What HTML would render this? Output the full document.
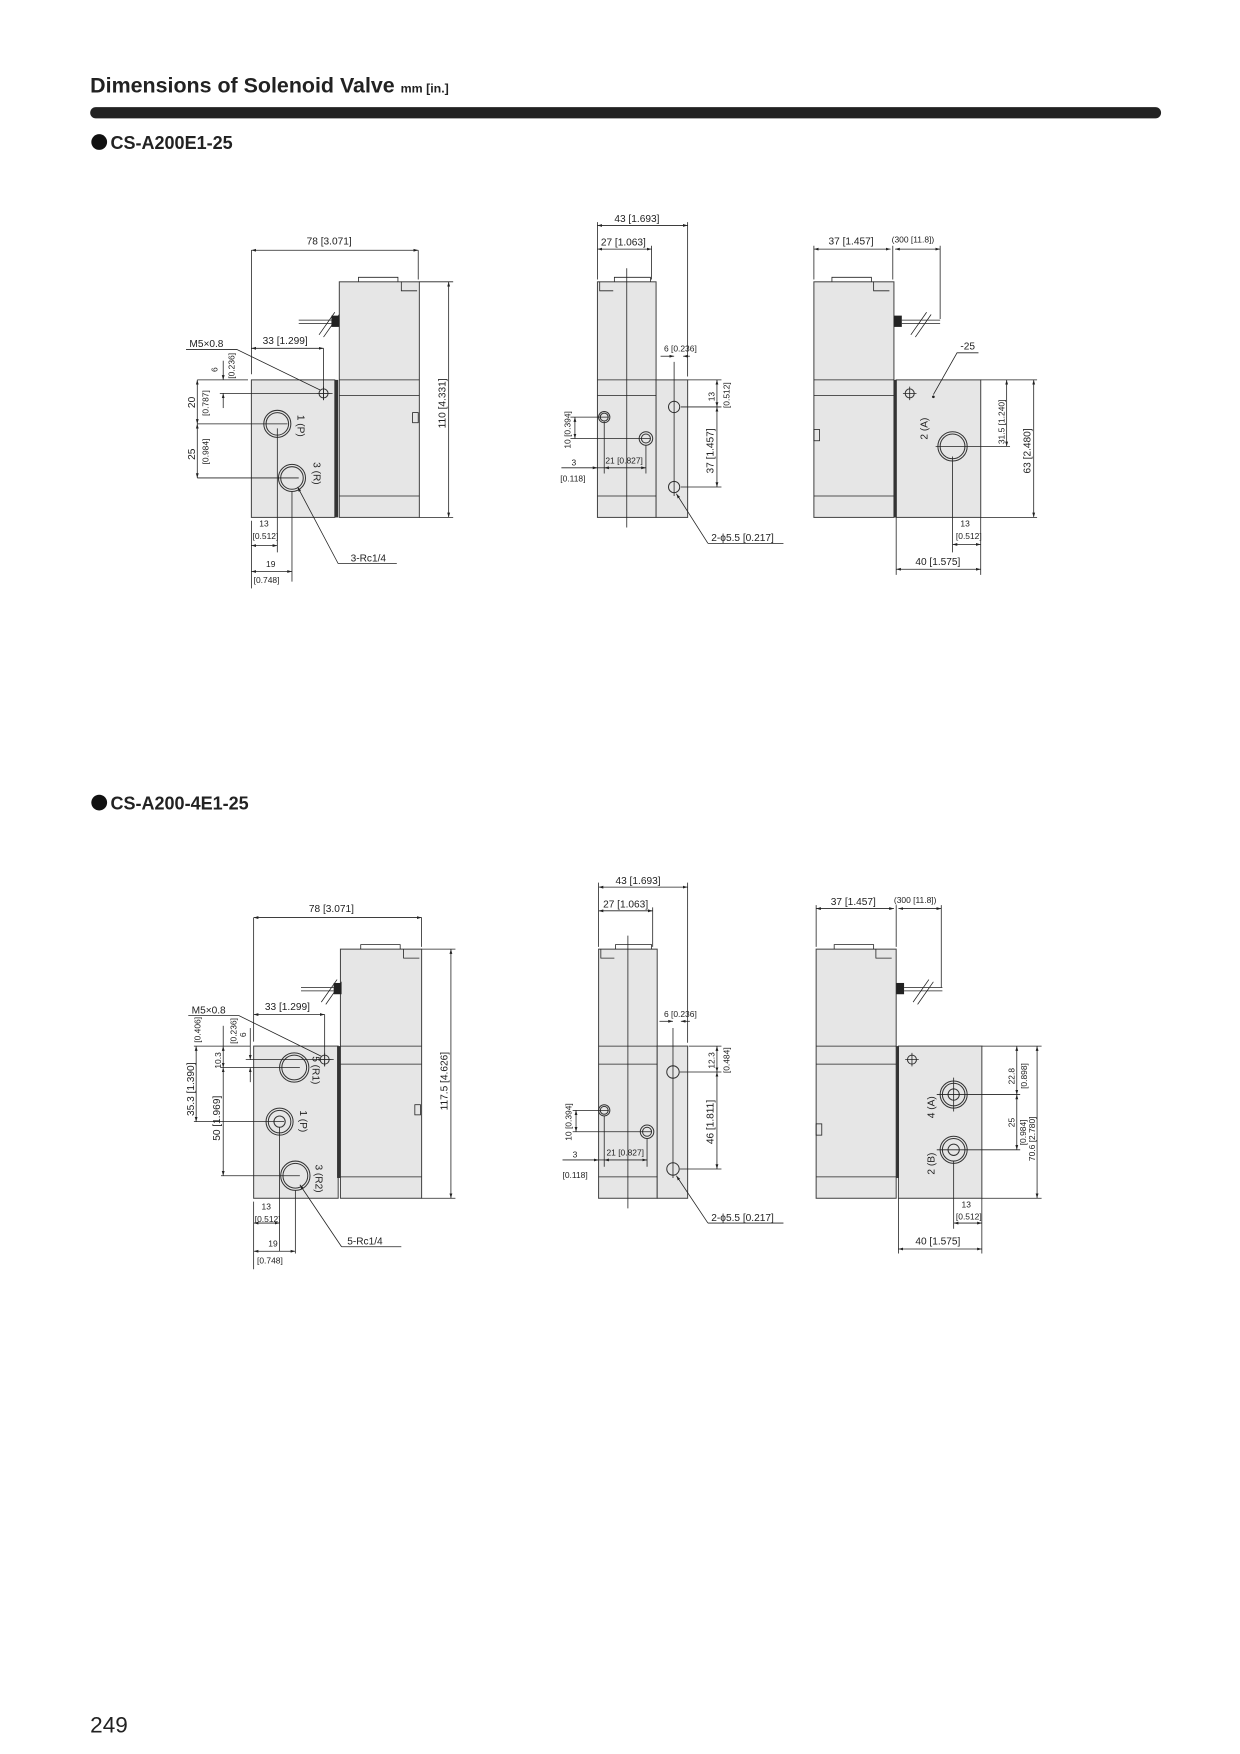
<!DOCTYPE html>
<html><head><meta charset="utf-8"><style>
html,body{margin:0;padding:0;background:#fff}
svg{display:block}
text{font-family:"Liberation Sans",sans-serif;fill:#222}
.b{fill:#e6e6e6;stroke:#444;stroke-width:0.9}
.l{stroke:#222;stroke-width:0.7;fill:none}
.d{stroke:#222;stroke-width:0.7;fill:none;marker-start:url(#a);marker-end:url(#a)}
.d1{stroke:#222;stroke-width:0.7;fill:none;marker-end:url(#a)}
.h{fill:none;stroke:#333;stroke-width:0.9}
.t{font-size:9px}
.s{font-size:7.5px}
</style></head><body>
<svg width="1240" height="1754" viewBox="0 0 1100 1556" xmlns="http://www.w3.org/2000/svg">
<defs><marker id="a" viewBox="0 0 10 10" refX="10" refY="5" markerWidth="6" markerHeight="6" orient="auto-start-reverse"><path d="M0,2 L10,5 L0,8z" fill="#222"/></marker></defs>
<text x="80" y="82" style="font-size:19px;font-weight:bold">Dimensions of Solenoid Valve <tspan style="font-size:11px">mm [in.]</tspan></text>
<rect x="80" y="95" width="950" height="10" rx="5" fill="#222" transform="scale(1)"/>
<circle cx="88" cy="126" r="7" fill="#111"/>
<text x="98" y="132" style="font-size:16px;font-weight:bold">CS-A200E1-25</text>
<circle cx="88" cy="712" r="7" fill="#111"/>
<text x="98" y="718" style="font-size:16px;font-weight:bold">CS-A200-4E1-25</text>
<text x="80" y="1537" style="font-size:20px">249</text>

<!-- ===== TOP LEFT ===== -->
<rect class="b" x="223" y="337" width="74" height="122"/>
<rect class="b" x="301" y="250" width="71" height="209"/>
<path class="l" d="M318 250 v-4 h35 v4 M301 337 h71 M301 351 h71 M301 440 h71 M356 250 v8 h14"/>
<rect x="297" y="337" width="3" height="122" fill="#333"/>
<rect x="366" y="366" width="5" height="9" class="l"/>
<rect x="294" y="280" width="7" height="10" fill="#222"/>
<path class="l" d="M265 284 h29 M265 287 h29 M283 297 l14 -20 M287 299 l14 -20"/>
<circle class="h" cx="287" cy="349" r="4"/><path class="l" d="M281 349h12M287 343v12"/>
<circle class="h" cx="246" cy="376" r="12"/><circle class="h" cx="246" cy="376" r="10"/>
<circle class="h" cx="259" cy="424" r="12"/><circle class="h" cx="259" cy="424" r="10"/>
<text class="t" transform="translate(264,368) rotate(90)">1 (P)</text>
<text class="t" transform="translate(278,410) rotate(90)">3 (R)</text>
<path class="l" d="M223 222 v110 M371 222 v26 M372 250 h30 M372 459 h30 M287 309 v46 M175 337 h45 M175 376 h80 M175 424 h90 M195 349 h100 M223 462 v60 M246 380 v110 M259 436 v80"/>
<path class="d" d="M223 222 H371"/><text class="t" x="272" y="217">78 [3.071]</text>
<path class="d" d="M398 250 V459"/><text class="t" transform="translate(395,380) rotate(-90)">110 [4.331]</text>
<path class="d" d="M223 309 H287"/><text class="t" x="233" y="305">33 [1.299]</text>
<text class="t" x="168" y="308">M5×0.8</text><path class="l" d="M165 310 h45 L284 346"/>
<path class="d1" d="M198 320 V337"/><path class="d1" d="M198 362 V349"/>
<text class="s" transform="translate(193,330) rotate(-90)">6</text><text class="s" transform="translate(208,336) rotate(-90)">[0.236]</text>
<path class="d" d="M175 337 V376"/><text class="t" transform="translate(173,362) rotate(-90)">20</text><text class="s" transform="translate(185,369) rotate(-90)">[0.787]</text>
<path class="d" d="M175 376 V424"/><text class="t" transform="translate(173,408) rotate(-90)">25</text><text class="s" transform="translate(185,412) rotate(-90)">[0.984]</text>
<path class="d" d="M223 484 H246"/><text class="s" x="230" y="467">13</text><text class="s" x="224" y="478">[0.512]</text>
<path class="d" d="M223 507 H259"/><text class="s" x="236" y="503">19</text><text class="s" x="225" y="517">[0.748]</text>
<path class="d1" d="M300 500 L264 432"/><path class="l" d="M300 500 H352"/><text class="t" x="311" y="498">3-Rc1/4</text>

<!-- ===== TOP MIDDLE ===== -->
<rect class="b" x="530" y="250" width="52" height="209"/>
<rect class="b" x="582" y="337" width="28" height="122"/>
<path class="l" d="M530 337 h52 M530 351 h52 M530 440 h52 M545 250 v-4 h32 v4 M532 250 v8 h12 M556 238 V468"/>
<circle class="h" cx="536" cy="370" r="5"/><circle class="h" cx="536" cy="370" r="3.5"/>
<circle class="h" cx="573" cy="389" r="6"/><circle class="h" cx="573" cy="389" r="4"/>
<circle class="h" cx="598" cy="361" r="5"/><circle class="h" cx="598" cy="432" r="5"/>
<path class="l" d="M598 321 V440 M530 197 V248 M610 197 V334 M578 218 V248 M604 361 H640 M604 432 H640 M610 337 H640 M506 370 H540 M506 389 H577 M536 374 V420 M573 395 V420"/>
<path class="d" d="M530 200 H610"/><text class="t" x="545" y="197">43 [1.693]</text>
<path class="d" d="M530 221 H578"/><text class="t" x="533" y="218">27 [1.063]</text>
<path class="d1" d="M586 316 H598"/><path class="d1" d="M612 316 H606"/><text class="s" x="589" y="312">6 [0.236]</text>
<path class="d" d="M636 337 V361"/><text class="s" transform="translate(634,356) rotate(-90)">13</text><text class="s" transform="translate(647,362) rotate(-90)">[0.512]</text>
<path class="d" d="M636 361 V432"/><text class="t" transform="translate(633,420) rotate(-90)">37 [1.457]</text>
<path class="d" d="M510 370 V389"/><text class="s" transform="translate(506,398) rotate(-90)">10 [0.394]</text>
<path class="d1" d="M498 415 H530"/><path class="l" d="M530 415 H536"/><text class="s" x="507" y="413">3</text><text class="s" x="497" y="427">[0.118]</text>
<path class="d" d="M536 415 H573"/><text class="s" x="537" y="411">21 [0.827]</text>
<path class="d1" d="M628 482 L600 438"/><path class="l" d="M628 482 H695"/><text class="t" x="631" y="480">2-ϕ5.5 [0.217]</text>

<!-- ===== TOP RIGHT ===== -->
<rect class="b" x="722" y="250" width="71" height="209"/>
<rect class="b" x="795" y="337" width="75" height="122"/>
<rect x="793" y="337" width="2.5" height="122" fill="#333"/>
<path class="l" d="M722 337 h71 M722 351 h71 M722 440 h71 M738 250 v-4 h35 v4 M775 250 v8 h14"/>
<rect x="722" y="381" width="5" height="10" class="l"/>
<rect x="793" y="280" width="7" height="10" fill="#222"/>
<path class="l" d="M800 284 h34 M800 287 h34 M808 297 l14 -20 M812 299 l14 -20"/>
<circle class="h" cx="807" cy="349" r="4"/><path class="l" d="M801 349h12M807 343v12"/>
<circle cx="828" cy="352" r="1.2" fill="#222"/>
<path class="l" d="M828 350 L849 313 H868"/><text class="t" x="852" y="310">-25</text>
<circle class="h" cx="845" cy="396" r="13"/><circle class="h" cx="845" cy="396" r="11"/>
<text class="t" transform="translate(823,390) rotate(-90)">2 (A)</text>
<path class="l" d="M722 218 V248 M792 218 V248 M834 218 V283 M834 396 H896 M870 337 H920 M870 459 H920 M845 405 V490 M870 459 V487 M795 459 V510 M870 487 V510 M830 396 H845"/>
<path class="d" d="M722 221 H790"/><text class="t" x="735" y="217">37 [1.457]</text>
<path class="d" d="M794 221 H834"/><text class="s" x="791" y="215">(300 [11.8])</text>
<path class="d" d="M893 337 V396"/><text class="s" transform="translate(891,394) rotate(-90)">31.5 [1.240]</text>
<path class="d" d="M917 337 V459"/><text class="t" transform="translate(914,420) rotate(-90)">63 [2.480]</text>
<path class="d" d="M845 483 H870"/><text class="s" x="852" y="467">13</text><text class="s" x="848" y="478">[0.512]</text>
<path class="d" d="M795 505 H870"/><text class="t" x="812" y="501">40 [1.575]</text>

<!-- ===== BOTTOM LEFT ===== -->
<rect class="b" x="225" y="928" width="75" height="135"/>
<rect class="b" x="302" y="842" width="72" height="221"/>
<path class="l" d="M320 842 v-4 h35 v4 M302 928 h72 M302 944 h72 M302 1044 h72 M358 842 v8 h14"/>
<rect x="299" y="928" width="3" height="117" fill="#333"/>
<rect x="368" y="980" width="5" height="9" class="l"/>
<rect x="296" y="872" width="7" height="10" fill="#222"/>
<path class="l" d="M267 876 h29 M267 879 h29 M285 889 l14 -20 M289 891 l14 -20"/>
<circle class="h" cx="288" cy="940" r="4"/><path class="l" d="M282 940h12M288 934v12"/>
<circle class="h" cx="261" cy="947" r="13"/><circle class="h" cx="261" cy="947" r="11"/>
<circle class="h" cx="248" cy="995" r="12"/><circle class="h" cx="248" cy="995" r="10"/><circle class="h" cx="248" cy="995" r="5"/>
<circle class="h" cx="262" cy="1043" r="13"/><circle class="h" cx="262" cy="1043" r="11"/>
<text class="t" transform="translate(277,937) rotate(90)">5 (R1)</text>
<text class="t" transform="translate(266,985) rotate(90)">1 (P)</text>
<text class="t" transform="translate(280,1033) rotate(90)">3 (R2)</text>
<path class="l" d="M225 814 v110 M374 814 v26 M374 842 h30 M374 1063 h30 M288 900 v46 M172 928 h50 M196 947 h70 M172 995 h80 M196 1043 h70 M218 940 h78 M225 1066 v60 M248 1000 v110 M262 1056 v56"/>
<path class="d" d="M225 814 H374"/><text class="t" x="274" y="809">78 [3.071]</text>
<path class="d" d="M400 842 V1063"/><text class="t" transform="translate(397,985) rotate(-90)">117.5 [4.626]</text>
<path class="d" d="M225 900 H288"/><text class="t" x="235" y="896">33 [1.299]</text>
<text class="t" x="170" y="899">M5×0.8</text><path class="l" d="M167 901 h45 L285 937"/>
<path class="d1" d="M222 912 V940"/><path class="d1" d="M222 960 V947"/>
<text class="s" transform="translate(218,920) rotate(-90)">6</text><text class="s" transform="translate(210,926) rotate(-90)">[0.236]</text>
<path class="d" d="M198 928 V947"/><path class="l" d="M198 910 V928"/>
<text class="s" transform="translate(196,948) rotate(-90)">10.3</text><text class="s" transform="translate(178,925) rotate(-90)">[0.406]</text>
<path class="d" d="M174 928 V995"/><text class="t" transform="translate(172,990) rotate(-90)">35.3 [1.390]</text>
<path class="d" d="M198 947 V1043"/><text class="t" transform="translate(195,1012) rotate(-90)">50 [1.969]</text>
<path class="d" d="M225 1085 H248"/><text class="s" x="232" y="1073">13</text><text class="s" x="226" y="1084">[0.512]</text>
<path class="d" d="M225 1110 H262"/><text class="s" x="238" y="1106">19</text><text class="s" x="228" y="1121">[0.748]</text>
<path class="d1" d="M303 1106 L266 1051"/><path class="l" d="M303 1106 H356"/><text class="t" x="308" y="1104">5-Rc1/4</text>

<!-- ===== BOTTOM MIDDLE ===== -->
<rect class="b" x="531" y="842" width="52" height="221"/>
<rect class="b" x="583" y="928" width="27" height="135"/>
<path class="l" d="M531 928 h52 M531 944 h52 M531 1044 h52 M546 842 v-4 h32 v4 M533 842 v8 h12 M557 830 V1072"/>
<circle class="h" cx="536" cy="985" r="5"/><circle class="h" cx="536" cy="985" r="3.5"/>
<circle class="h" cx="574" cy="1004" r="6"/><circle class="h" cx="574" cy="1004" r="4"/>
<circle class="h" cx="597" cy="951" r="5.5"/><circle class="h" cx="597" cy="1037" r="5.5"/>
<path class="l" d="M597 912 V1045 M531 783 V840 M610 783 V925 M579 805 V840 M603 951 H640 M603 1037 H640 M611 928 H640 M508 985 H540 M508 1004 H578 M536 990 V1035 M574 1010 V1035"/>
<path class="d" d="M531 787 H610"/><text class="t" x="546" y="784">43 [1.693]</text>
<path class="d" d="M531 808 H579"/><text class="t" x="535" y="805">27 [1.063]</text>
<path class="d1" d="M585 906 H597"/><path class="d1" d="M612 906 H604"/><text class="s" x="589" y="902">6 [0.236]</text>
<path class="d" d="M636 928 V951"/><text class="s" transform="translate(634,948) rotate(-90)">12.3</text><text class="s" transform="translate(647,952) rotate(-90)">[0.484]</text>
<path class="d" d="M636 951 V1037"/><text class="t" transform="translate(633,1015) rotate(-90)">46 [1.811]</text>
<path class="d" d="M511 985 V1004"/><text class="s" transform="translate(507,1012) rotate(-90)">10 [0.394]</text>
<path class="d1" d="M499 1029 H531"/><path class="l" d="M531 1029 H536"/><text class="s" x="508" y="1027">3</text><text class="s" x="499" y="1045">[0.118]</text>
<path class="d" d="M536 1029 H574"/><text class="s" x="538" y="1025">21 [0.827]</text>
<path class="d1" d="M628 1085 L600 1043"/><path class="l" d="M628 1085 H695"/><text class="t" x="631" y="1083">2-ϕ5.5 [0.217]</text>

<!-- ===== BOTTOM RIGHT ===== -->
<rect class="b" x="724" y="842" width="71" height="221"/>
<rect class="b" x="797" y="928" width="74" height="135"/>
<rect x="795" y="928" width="2.5" height="117" fill="#333"/>
<path class="l" d="M724 928 h71 M724 944 h71 M724 1044 h71 M740 842 v-4 h35 v4 M777 842 v8 h14"/>
<rect x="724" y="997" width="5" height="10" class="l"/>
<rect x="795" y="872" width="7" height="10" fill="#222"/>
<path class="l" d="M802 876 h34 M802 879 h34 M810 889 l14 -20 M814 891 l14 -20"/>
<circle class="h" cx="809" cy="940" r="4"/><path class="l" d="M803 940h12M809 934v12"/>
<circle class="h" cx="846" cy="971" r="12"/><circle class="h" cx="846" cy="971" r="10"/><circle class="h" cx="846" cy="971" r="5"/>
<circle class="h" cx="846" cy="1020" r="12"/><circle class="h" cx="846" cy="1020" r="10"/><circle class="h" cx="846" cy="1020" r="5"/>
<text class="t" transform="translate(829,992) rotate(-90)">4 (A)</text>
<text class="t" transform="translate(829,1042) rotate(-90)">2 (B)</text>
<path class="l" d="M724 803 V840 M795 803 V840 M835 803 V876 M831 971 H905 M831 1020 H905 M871 928 H924 M871 1063 H924 M846 1030 V1090 M871 1063 V1090 M797 1063 V1112 M871 1090 V1112 M846 956 V986"/>
<path class="d" d="M724 806 H793"/><text class="t" x="737" y="803">37 [1.457]</text>
<path class="d" d="M797 806 H835"/><text class="s" x="793" y="801">(300 [11.8])</text>
<path class="d" d="M902 928 V971"/><text class="s" transform="translate(900,962) rotate(-90)">22.8</text><text class="s" transform="translate(911,966) rotate(-90)">[0.898]</text>
<path class="d" d="M902 971 V1020"/><text class="s" transform="translate(900,1000) rotate(-90)">25</text><text class="s" transform="translate(910,1016) rotate(-90)">[0.984]</text>
<path class="d" d="M920 928 V1063"/><text class="s" transform="translate(918,1030) rotate(-90)">70.6 [2.780]</text>
<path class="d" d="M846 1085 H871"/><text class="s" x="853" y="1071">13</text><text class="s" x="848" y="1082">[0.512]</text>
<path class="d" d="M797 1108 H871"/><text class="t" x="812" y="1104">40 [1.575]</text>
</svg>
</body></html>
